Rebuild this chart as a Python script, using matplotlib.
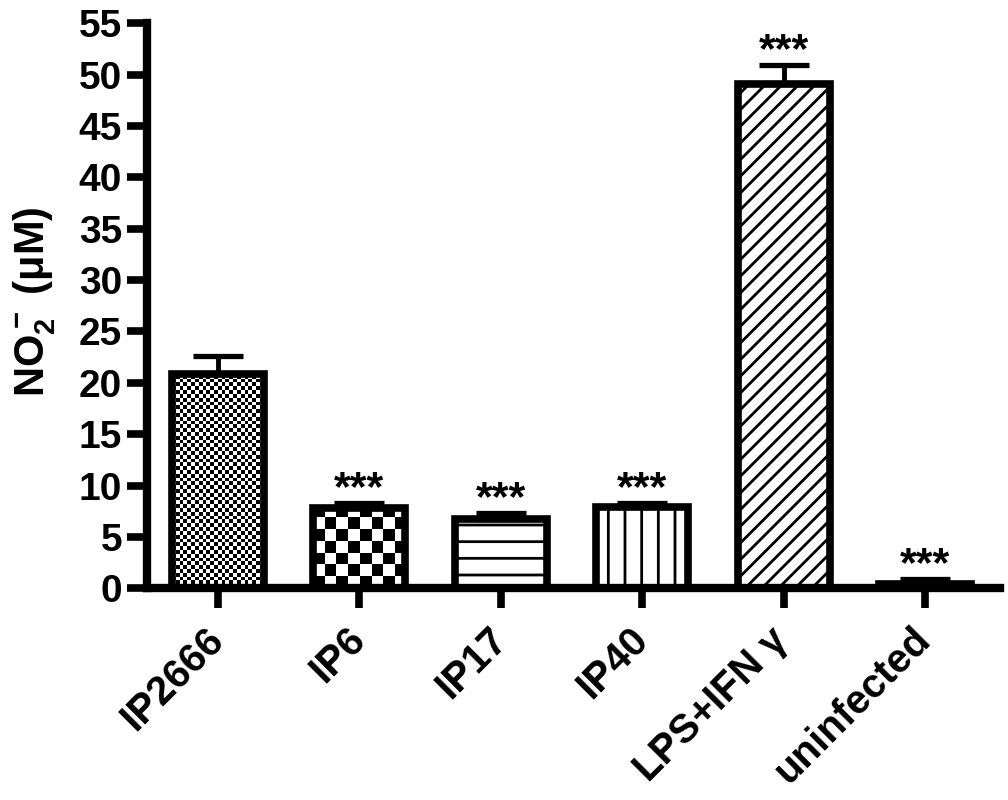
import numpy as np
import matplotlib
matplotlib.use('Agg')
import matplotlib.pyplot as plt

plt.rcParams['font.family'] = 'Liberation Sans'
plt.rcParams['font.weight'] = 'bold'
plt.rcParams['mathtext.fontset'] = 'custom'
plt.rcParams['mathtext.rm'] = 'Liberation Sans:bold'
plt.rcParams['mathtext.it'] = 'Liberation Sans:bold'
plt.rcParams['mathtext.bf'] = 'Liberation Sans:bold'
plt.rcParams['mathtext.default'] = 'regular'
plt.rcParams['hatch.linewidth'] = 2.0

groups = ['IP2666', 'IP6', 'IP17', 'IP40', 'LPS+IFN $\\gamma$', 'uninfected']
no2 = [20.9, 7.8, 6.8, 7.9, 49.1, 0.4]
sem = [1.7, 0.5, 0.55, 0.4, 1.8, 0.55]
stars = ['', '***', '***', '***', '***', '***']
# fill style per bar: checker cell (x, y) in data units, or a hatch string
checker = [(0.027, 0.37), (0.083, 1.14), None, None, None, None]
hatches = ['', '', '-', '|', '//', '']

x = np.arange(len(groups))

fig = plt.figure(figsize=(10.08, 8), dpi=100)
ax = fig.add_axes([0.146, 0.2645, 0.846, 0.7065])

bars = ax.bar(x, no2, width=0.65, color='white', edgecolor='black',
              linewidth=0, zorder=2)
for b, h in zip(bars, hatches):
    b.set_hatch(h)

for b, cell in zip(bars, checker):
    if cell is None:
        continue
    cx, cy = cell
    x0, y0 = b.get_x(), b.get_y()
    nx = int(np.ceil(b.get_width() / cx))
    ny = int(np.ceil(b.get_height() / cy))
    board = np.add.outer(np.arange(ny), np.arange(nx)) % 2
    im = ax.imshow(board, cmap='gray', origin='lower', aspect='auto',
                   interpolation='nearest',
                   extent=(x0, x0 + nx * cx, y0, y0 + ny * cy), zorder=2.5)
    im.set_clip_path(b)

ax.bar(x, no2, width=0.65, fill=False, edgecolor='black', linewidth=5.5,
       zorder=3)

ax.errorbar(x, no2, yerr=[np.zeros(len(sem)), sem], fmt='none',
            ecolor='black', elinewidth=3.5, capsize=18, capthick=3.8,
            zorder=4)

for xi, v, e, s in zip(x, no2, sem, stars):
    if s:
        ax.annotate(s, (xi, v + e), xytext=(0, 2), textcoords='offset points',
                    ha='center', va='baseline', fontsize=31,
                    fontweight='bold')

ax.set_xlim(-0.5, 5.53)
ax.set_ylim(0, 55)
ax.set_yticks(np.arange(0, 56, 5))
ax.set_xticks(x)
ax.set_xticklabels(groups, rotation=45, ha='right', va='center',
                   rotation_mode='anchor')

for side in ['top', 'right']:
    ax.spines[side].set_visible(False)
for side in ['left', 'bottom']:
    ax.spines[side].set_linewidth(6)
    ax.spines[side].set_zorder(5)

ax.tick_params(axis='both', direction='out', length=14.5, width=5.5)
ax.tick_params(axis='y', pad=3.5, labelsize=28)
ax.tick_params(axis='x', pad=18, labelsize=29)

ax.set_ylabel('NO$_2^-$ ($\\mu$M)', fontsize=30, fontweight='bold')
ax.yaxis.set_label_coords(-0.105, 0.507)

plt.savefig('out.png', dpi=100)
